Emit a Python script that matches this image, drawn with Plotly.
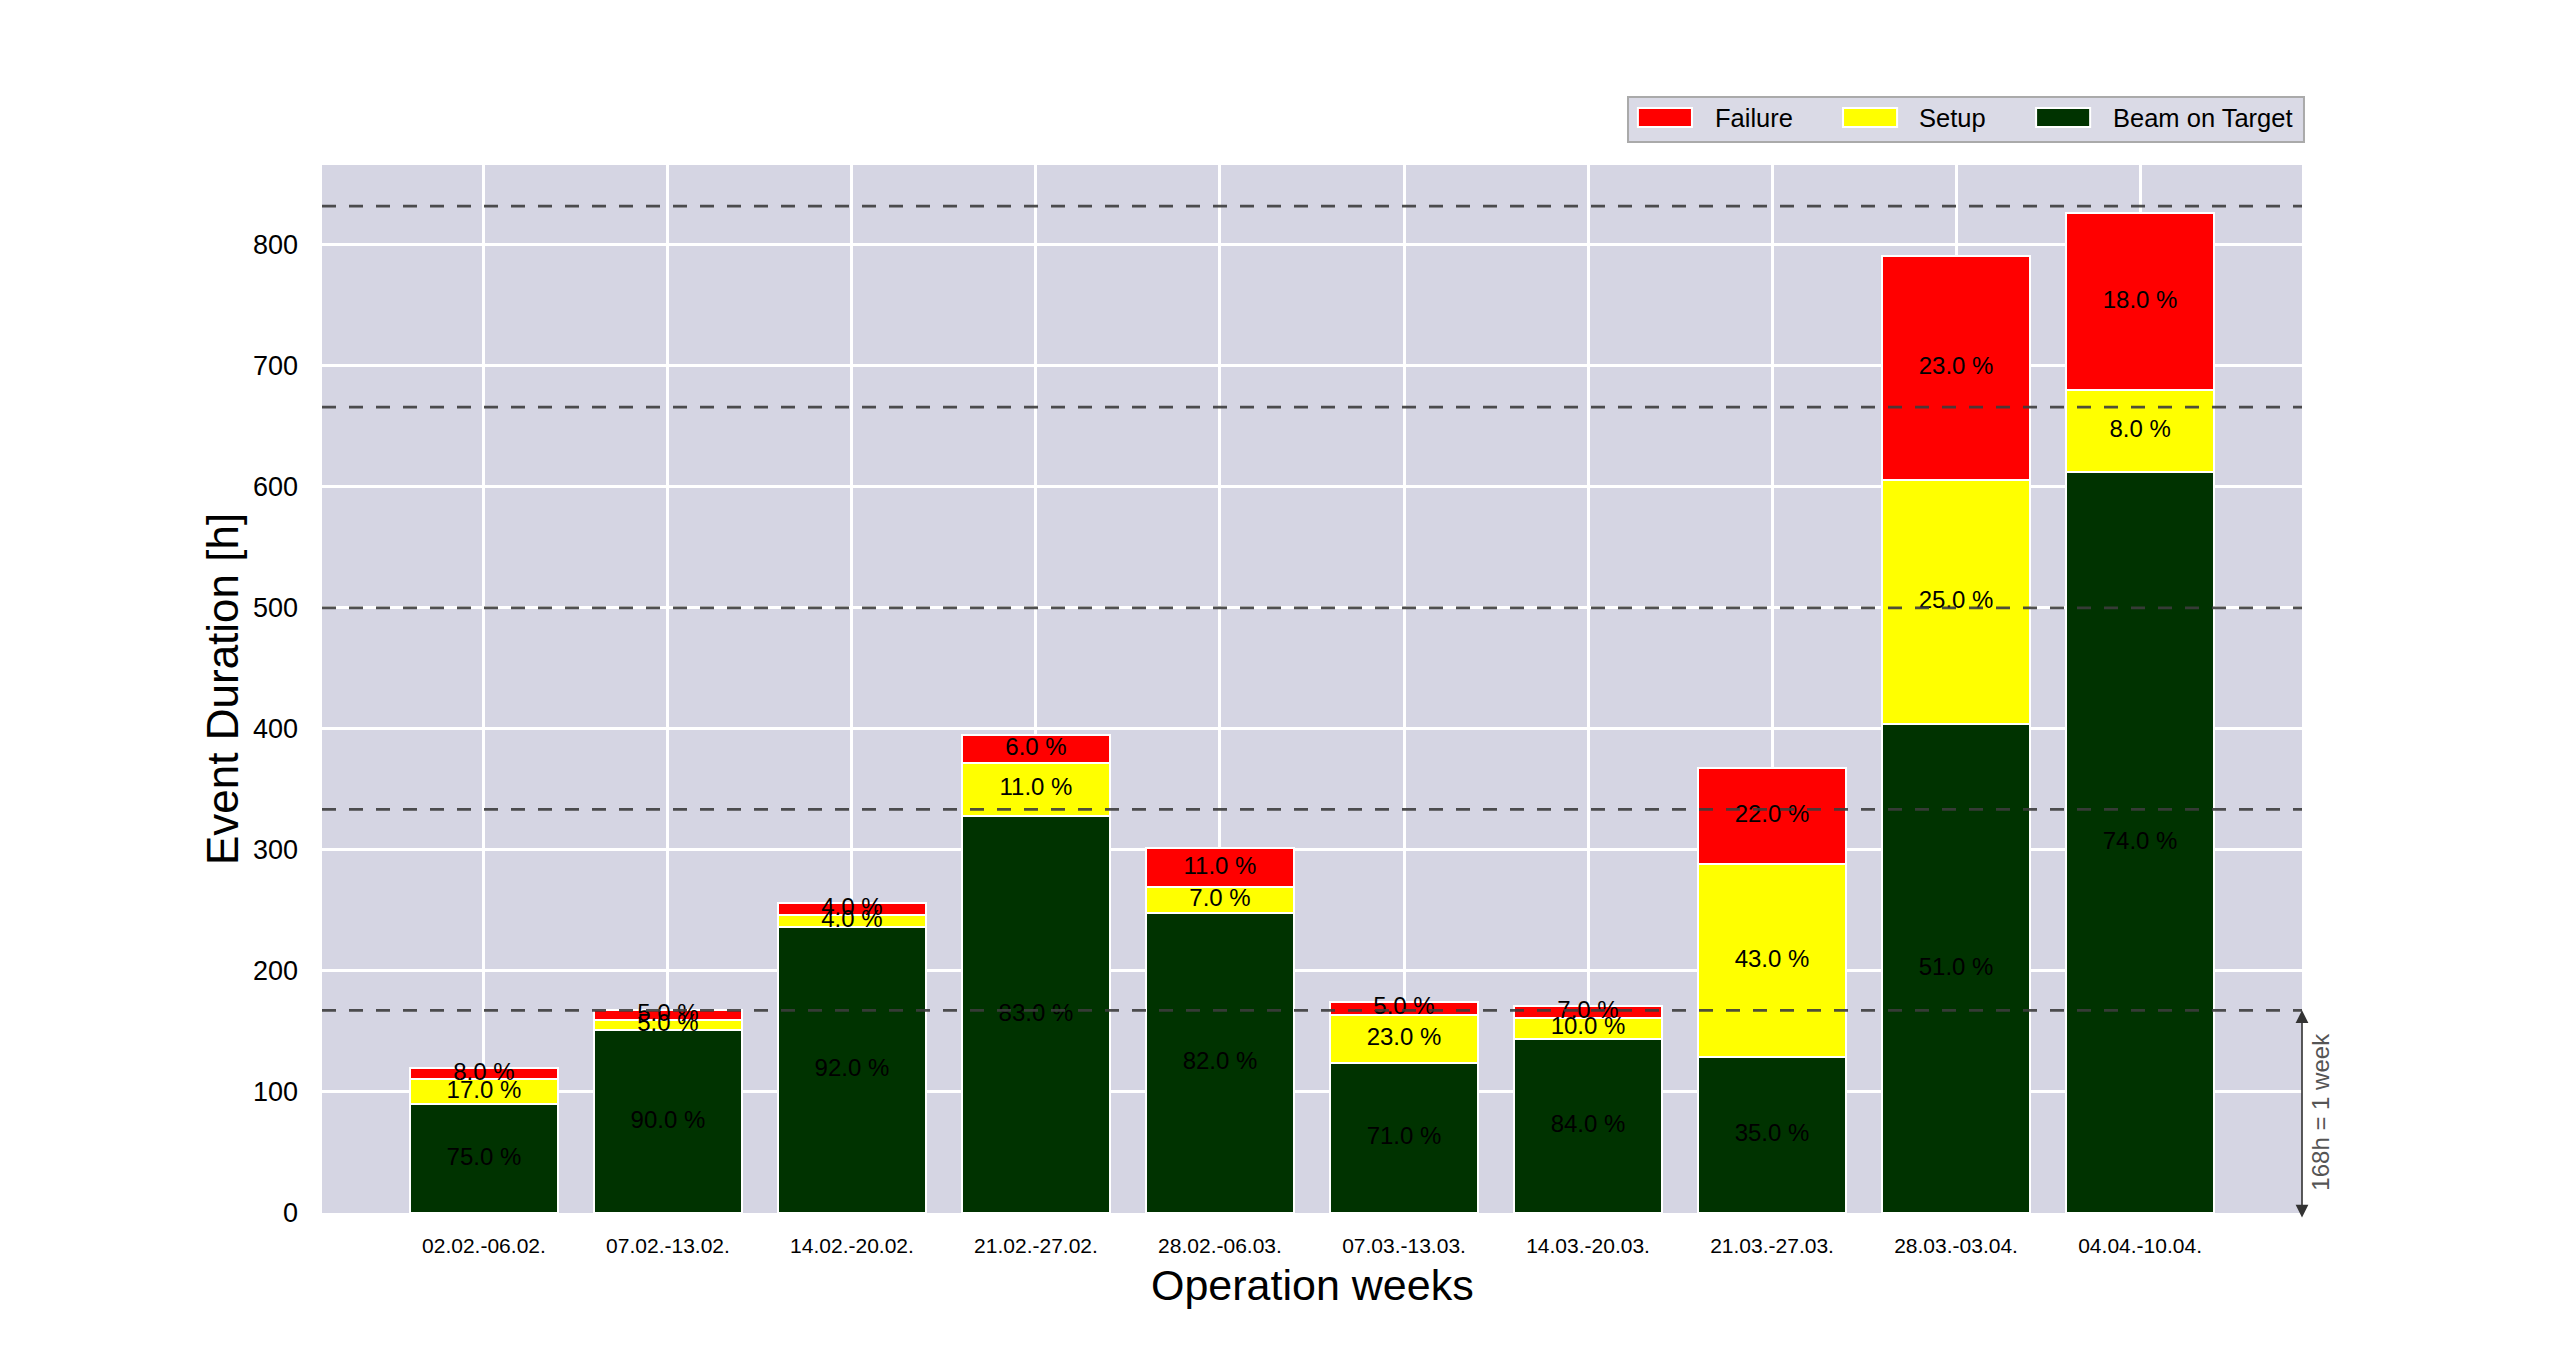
import plotly.graph_objects as go

weeks = ["02.02.-06.02.", "07.02.-13.02.", "14.02.-20.02.", "21.02.-27.02.", "28.02.-06.03.",
         "07.03.-13.03.", "14.03.-20.03.", "21.03.-27.03.", "28.03.-03.04.", "04.04.-10.04."]
beam_h = [90, 151, 236, 328, 248, 124, 144, 129, 404, 612]
setup_h = [20.5, 8.5, 10, 44, 21, 40, 17, 159, 202, 68]
failure_h = [9.5, 8.5, 10, 23, 33, 10, 10, 80, 185, 146]
beam_pct = [75, 90, 92, 83, 82, 71, 84, 35, 51, 74]
setup_pct = [17, 5, 4, 11, 7, 23, 10, 43, 25, 8]
failure_pct = [8, 5, 4, 6, 11, 5, 7, 22, 23, 18]
week_lines = [167.5, 333.5, 500, 666, 832]
one_week = 167.5
legend_names = ["Failure", "Setup", "Beam on Target"]

FONT = "Liberation Sans, Arial, sans-serif"
BG = "#d5d5e3"
colors = {"Beam on Target": "#003300", "Setup": "#ffff00", "Failure": "#ff0000"}

fig = go.Figure()
series = [("Beam on Target", beam_h, beam_pct), ("Setup", setup_h, setup_pct), ("Failure", failure_h, failure_pct)]
for name, vals, _ in series:
    fig.add_trace(go.Bar(x=weeks, y=vals, name=name, showlegend=False,
                         marker=dict(color=colors[name], line=dict(color="white", width=2)), width=0.8))

# labels at segment midpoints
base = [0.0] * len(weeks)
for name, vals, pct in series:
    mids = [b + v / 2 for b, v in zip(base, vals)]
    fig.add_trace(go.Scatter(x=weeks, y=mids, mode="text", text=[f"{p:.1f} %" for p in pct],
                             textfont=dict(family=FONT, size=24, color="black"),
                             showlegend=False, hoverinfo="skip"))
    base = [b + v for b, v in zip(base, vals)]

shapes = []
for yv in week_lines:
    shapes.append(dict(type="line", xref="paper", x0=0, x1=1, yref="y", y0=yv, y1=yv,
                       line=dict(color="rgba(60,60,60,0.9)", width=2.7, dash="14px,13px"), layer="above"))

annotations = [
    dict(xref="paper", x=1, yref="y", y=one_week, axref="pixel", ax=0, ayref="y", ay=-5,
         showarrow=True, arrowhead=2, startarrowhead=2, arrowside="end+start", arrowsize=1.6, arrowwidth=1.6,
         arrowcolor="#333333", text="", standoff=0, startstandoff=0),
    dict(xref="paper", x=1, xshift=19, yref="y", y=one_week / 2, text="168h = 1 week", textangle=-90,
         showarrow=False, font=dict(family=FONT, size=24, color="#555555"), xanchor="center", yanchor="middle"),
    dict(xref="paper", x=0.5, yref="paper", y=0, yshift=-72, text="Operation weeks", showarrow=False,
         font=dict(family=FONT, size=43, color="black"), xanchor="center", yanchor="middle"),
    dict(xref="paper", x=0, xshift=-100, yref="paper", y=0.5, text="Event Duration [h]", textangle=-90,
         showarrow=False, font=dict(family=FONT, size=44, color="black"), xanchor="center", yanchor="middle"),
]

# manual legend (box, patches, labels) in paper coordinates
shapes.append(dict(type="rect", xref="paper", yref="paper", x0=0.6596, x1=1.001, y0=1.0219, y1=1.0649,
                   fillcolor="#dadae6", line=dict(color="#aaaaaa", width=2), layer="above"))
patch_x = [0.6646, 0.7682, 0.8657]
text_x = [0.7025, 0.8056, 0.9035]
for name, px, tx in zip(legend_names, patch_x, text_x):
    shapes.append(dict(type="rect", xref="paper", yref="paper", x0=px, x1=px + 0.0273, y0=1.0363, y1=1.0544,
                       fillcolor=colors[name], line=dict(color="white", width=2), layer="above"))
    annotations.append(dict(xref="paper", yref="paper", x=tx, y=1.0448, text=name, showarrow=False,
                            xanchor="left", yanchor="middle", font=dict(family=FONT, size=25.5, color="black")))

fig.update_layout(
    width=2552, height=1357,
    margin=dict(l=314, r=258, t=157, b=152, autoexpand=False),
    paper_bgcolor="white", plot_bgcolor=BG,
    barmode="stack", bargap=0.2, showlegend=False,
    font=dict(family=FONT, color="black"),
    shapes=shapes, annotations=annotations,
    xaxis=dict(type="category", range=[-0.88, 9.88], showgrid=True, gridcolor="white", gridwidth=2.5,
               tickfont=dict(size=21, family=FONT), ticks="", ticklabelstandoff=18, zeroline=False),
    yaxis=dict(range=[0, 866], dtick=100, showgrid=True, gridcolor="white", gridwidth=2.5,
               tickfont=dict(size=27, family=FONT), ticks="", ticklabelstandoff=23, zeroline=False),
)

fig.write_html("out.html")
